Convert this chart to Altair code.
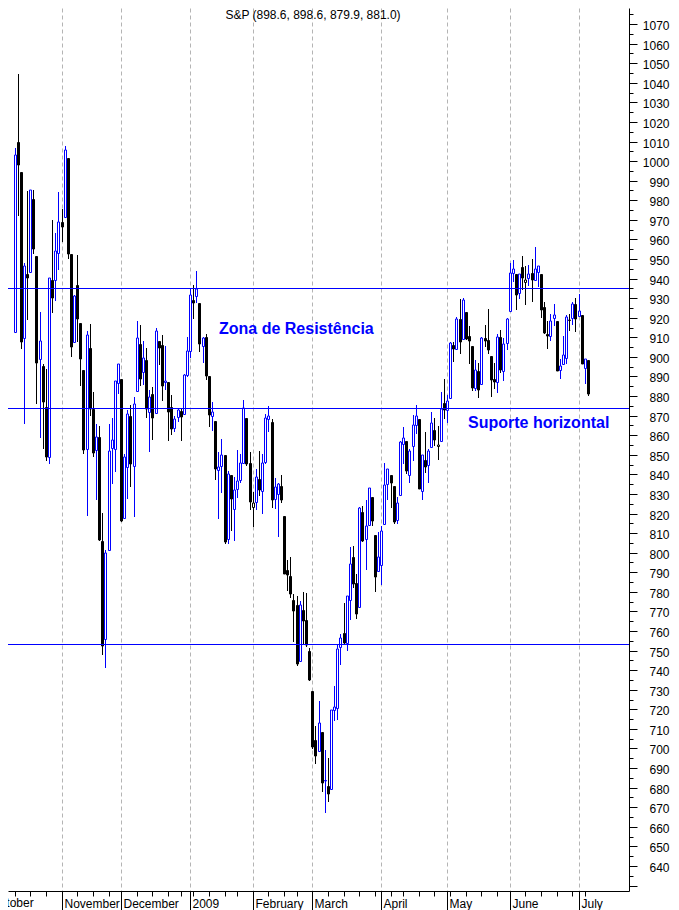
import altair as alt
import pandas as pd
import numpy as np

FONT = "Liberation Sans"
BLUE = "#0000ff"

dates = [
    # Oct 2008
    "2008-10-13", "2008-10-14", "2008-10-15", "2008-10-16", "2008-10-17", "2008-10-20", "2008-10-21",
    "2008-10-22", "2008-10-23", "2008-10-24", "2008-10-27", "2008-10-28", "2008-10-29", "2008-10-30",
    "2008-10-31",
    # Nov
    "2008-11-03", "2008-11-04", "2008-11-05", "2008-11-06", "2008-11-07", "2008-11-10", "2008-11-11",
    "2008-11-12", "2008-11-13", "2008-11-14", "2008-11-17", "2008-11-18", "2008-11-19", "2008-11-20",
    "2008-11-21", "2008-11-24", "2008-11-25", "2008-11-26", "2008-11-28",
    # Dec
    "2008-12-01", "2008-12-02", "2008-12-03", "2008-12-04", "2008-12-05", "2008-12-08", "2008-12-09",
    "2008-12-10", "2008-12-11", "2008-12-12", "2008-12-15", "2008-12-16", "2008-12-17", "2008-12-18",
    "2008-12-19", "2008-12-22", "2008-12-23", "2008-12-24", "2008-12-26", "2008-12-29", "2008-12-30",
    "2008-12-31",
    # Jan 2009
    "2009-01-02", "2009-01-05", "2009-01-06", "2009-01-07", "2009-01-08", "2009-01-09", "2009-01-12",
    "2009-01-13", "2009-01-14", "2009-01-15", "2009-01-16", "2009-01-20", "2009-01-21", "2009-01-22",
    "2009-01-23", "2009-01-26", "2009-01-27", "2009-01-28", "2009-01-29", "2009-01-30",
    # Feb
    "2009-02-02", "2009-02-03", "2009-02-04", "2009-02-05", "2009-02-06", "2009-02-09", "2009-02-10",
    "2009-02-11", "2009-02-12", "2009-02-13", "2009-02-17", "2009-02-18", "2009-02-19", "2009-02-20",
    "2009-02-23", "2009-02-24", "2009-02-25", "2009-02-26", "2009-02-27",
    # Mar
    "2009-03-02", "2009-03-03", "2009-03-04", "2009-03-05", "2009-03-06", "2009-03-09", "2009-03-10",
    "2009-03-11", "2009-03-12", "2009-03-13", "2009-03-16", "2009-03-17", "2009-03-18", "2009-03-19",
    "2009-03-20", "2009-03-23", "2009-03-24", "2009-03-25", "2009-03-26", "2009-03-27", "2009-03-30",
    "2009-03-31",
    # Apr
    "2009-04-01", "2009-04-02", "2009-04-03", "2009-04-06", "2009-04-07", "2009-04-08", "2009-04-09",
    "2009-04-13", "2009-04-14", "2009-04-15", "2009-04-16", "2009-04-17", "2009-04-20", "2009-04-21",
    "2009-04-22", "2009-04-23", "2009-04-24", "2009-04-27", "2009-04-28", "2009-04-29", "2009-04-30",
    # May
    "2009-05-01", "2009-05-04", "2009-05-05", "2009-05-06", "2009-05-07", "2009-05-08", "2009-05-11",
    "2009-05-12", "2009-05-13", "2009-05-14", "2009-05-15", "2009-05-18", "2009-05-19", "2009-05-20",
    "2009-05-21", "2009-05-22", "2009-05-26", "2009-05-27", "2009-05-28", "2009-05-29",
    # Jun
    "2009-06-01", "2009-06-02", "2009-06-03", "2009-06-04", "2009-06-05", "2009-06-08", "2009-06-09",
    "2009-06-10", "2009-06-11", "2009-06-12", "2009-06-15", "2009-06-16", "2009-06-17", "2009-06-18",
    "2009-06-19", "2009-06-22", "2009-06-23", "2009-06-24", "2009-06-25", "2009-06-26", "2009-06-29",
    "2009-06-30",
    # Jul
    "2009-07-01", "2009-07-02", "2009-07-06", "2009-07-07",
]

opens = [
    912.75, 1009.97, 994.60, 909.53, 942.29, 943.51, 980.40, 951.67, 899.08, 895.22, 874.28, 848.92, 939.51, 939.38, 953.11,
    968.67, 971.31, 1001.84, 952.40, 907.44, 936.75, 917.15, 893.39, 853.13, 904.36, 873.23, 852.34, 859.03, 805.87, 755.84, 801.20, 853.40, 852.90, 886.89,
    888.61, 817.94, 843.60, 869.75, 844.43, 882.71, 906.48, 892.17, 898.35, 871.79, 881.07, 871.53, 908.16, 905.98, 886.96, 887.20, 874.31, 863.87, 869.51, 872.37, 870.58, 890.59,
    902.99, 929.17, 931.17, 927.45, 905.73, 909.91, 890.40, 869.79, 867.28, 841.99, 844.45, 849.64, 806.77, 839.74, 822.16, 832.50, 837.30, 845.73, 868.89, 845.69,
    823.09, 825.69, 837.77, 831.75, 846.09, 868.24, 866.87, 827.41, 829.91, 833.95, 818.61, 791.06, 787.91, 775.87, 773.25, 744.69, 770.64, 765.76, 749.93,
    729.57, 704.44, 698.60, 708.27, 684.04, 680.76, 679.28, 719.59, 720.89, 751.97, 758.84, 753.88, 776.01, 797.92, 784.58, 772.31, 820.60, 806.81, 814.06, 828.68, 809.07, 790.88,
    793.59, 814.53, 835.13, 839.75, 834.12, 816.76, 829.29, 855.33, 856.88, 839.44, 854.54, 865.18, 868.27, 831.25, 847.26, 844.62, 853.91, 862.82, 854.48, 856.85, 876.59,
    872.74, 879.21, 906.10, 903.95, 919.58, 909.03, 922.99, 910.52, 905.40, 884.24, 892.76, 886.07, 909.67, 908.62, 900.42, 888.68, 887.00, 909.95, 892.96, 907.02,
    923.26, 942.87, 942.51, 932.49, 945.67, 938.12, 940.35, 942.73, 939.04, 943.44, 942.45, 925.60, 911.89, 910.86, 919.96, 918.13, 893.46, 896.31, 899.45, 918.84, 919.86, 927.15,
    920.82, 921.24, 894.27, 898.60,
]

highs = [
    1006.93, 1044.31, 994.60, 947.71, 984.64, 985.40, 985.44, 951.67, 922.83, 896.30, 893.78, 940.51, 969.97, 963.23, 984.38,
    975.57, 1007.51, 1001.84, 952.40, 931.46, 951.95, 917.15, 893.39, 913.01, 916.88, 882.29, 865.90, 864.57, 820.52, 801.20, 865.60, 868.94, 887.68, 896.25,
    888.61, 850.54, 873.12, 875.60, 879.42, 918.57, 916.26, 908.27, 904.63, 883.24, 884.63, 914.66, 908.16, 911.02, 905.47, 887.37, 880.44, 869.79, 873.74, 873.70, 891.12, 910.32,
    934.73, 936.63, 943.85, 927.45, 910.00, 911.93, 890.40, 877.02, 867.28, 851.59, 858.13, 849.64, 841.72, 839.74, 838.61, 852.53, 850.45, 877.86, 868.89, 851.66,
    830.78, 842.60, 851.85, 850.55, 870.75, 875.01, 868.05, 838.22, 835.48, 839.43, 818.61, 796.17, 797.58, 778.69, 777.85, 775.49, 780.12, 779.42, 751.27,
    729.57, 711.67, 724.12, 708.27, 699.09, 695.27, 719.60, 731.92, 752.63, 758.29, 774.53, 778.12, 803.04, 803.24, 788.91, 823.37, 823.65, 826.78, 832.98, 828.68, 809.07, 810.48,
    813.62, 845.61, 842.50, 839.75, 834.12, 828.42, 856.91, 864.31, 856.88, 852.93, 870.35, 875.63, 868.27, 850.09, 861.78, 852.87, 871.80, 868.83, 864.48, 882.06, 888.70,
    880.48, 907.85, 907.70, 920.28, 929.58, 930.17, 922.99, 915.57, 905.40, 898.36, 896.97, 910.00, 916.39, 924.60, 900.42, 896.65, 911.76, 913.84, 909.45, 920.02,
    947.77, 949.38, 942.51, 942.47, 951.69, 946.33, 946.92, 949.77, 956.23, 946.30, 942.45, 928.00, 918.44, 921.93, 927.09, 918.13, 898.69, 910.85, 921.42, 922.00, 927.99, 930.01,
    931.92, 921.24, 898.72, 898.60,
]

lows = [
    912.75, 972.07, 903.99, 865.83, 918.74, 943.51, 952.47, 875.81, 858.44, 852.85, 846.75, 845.27, 922.26, 928.50, 944.59,
    958.82, 971.31, 949.86, 899.73, 906.90, 907.47, 884.90, 850.48, 818.69, 869.88, 848.98, 826.84, 806.18, 747.78, 741.02, 801.20, 834.99, 841.37, 881.21,
    815.69, 817.94, 827.60, 833.60, 818.41, 882.71, 885.38, 885.45, 868.73, 851.35, 857.72, 871.53, 895.93, 877.44, 883.02, 857.09, 860.10, 861.44, 866.52, 857.07, 870.58, 889.67,
    899.35, 919.53, 927.28, 902.37, 896.81, 888.31, 864.32, 862.02, 836.93, 817.04, 830.66, 804.47, 804.30, 811.29, 806.07, 827.69, 835.40, 845.73, 844.15, 821.67,
    812.87, 821.98, 829.18, 819.91, 845.42, 861.65, 822.99, 822.30, 808.06, 825.21, 789.17, 780.43, 777.03, 754.25, 742.37, 744.69, 752.89, 751.75, 734.52,
    699.70, 692.30, 698.60, 677.93, 666.79, 672.88, 679.28, 713.85, 714.76, 742.46, 753.37, 749.93, 765.64, 781.82, 766.20, 772.31, 805.48, 791.37, 814.06, 813.43, 779.81, 790.88,
    783.32, 814.53, 826.70, 822.79, 814.53, 814.84, 829.29, 845.35, 840.25, 835.58, 847.04, 860.87, 832.39, 826.83, 840.57, 835.45, 853.91, 854.65, 847.12, 856.85, 868.51,
    866.10, 879.21, 897.34, 903.95, 901.36, 909.03, 908.68, 896.46, 882.79, 882.52, 878.94, 886.07, 905.22, 901.37, 879.61, 883.75, 881.46, 891.87, 887.60, 903.56,
    923.26, 938.46, 923.85, 929.32, 934.13, 926.44, 936.15, 927.97, 939.04, 935.66, 919.65, 911.60, 903.78, 907.94, 915.80, 893.04, 888.86, 896.31, 896.27, 913.03, 916.18, 912.86,
    920.82, 896.42, 886.36, 879.93,
]

closes = [
    1003.35, 998.01, 907.84, 946.43, 940.55, 985.40, 955.05, 896.78, 908.11, 876.77, 848.92, 940.51, 930.09, 954.09, 968.75,
    966.30, 1005.75, 952.77, 904.88, 930.99, 919.21, 898.95, 852.30, 911.29, 873.29, 850.75, 859.12, 806.58, 752.44, 800.03, 851.81, 857.39, 887.68, 896.24,
    816.21, 848.81, 870.74, 845.22, 876.07, 909.70, 888.67, 899.24, 873.59, 879.73, 868.57, 913.18, 904.42, 885.28, 887.88, 871.63, 863.16, 868.15, 872.80, 869.42, 890.64, 903.25,
    931.80, 927.45, 934.70, 906.65, 909.73, 890.35, 870.26, 871.79, 842.62, 843.74, 850.12, 805.22, 840.24, 827.50, 831.95, 836.57, 845.71, 874.09, 845.14, 825.88,
    825.44, 838.51, 832.23, 845.85, 868.60, 869.89, 827.16, 833.74, 835.19, 826.84, 789.17, 788.42, 778.94, 770.05, 743.33, 773.14, 764.90, 752.83, 735.09,
    700.82, 696.33, 712.87, 682.55, 683.38, 676.53, 719.60, 721.36, 750.74, 756.55, 753.89, 778.12, 794.35, 784.04, 768.54, 822.92, 806.12, 813.88, 832.86, 815.94, 787.53, 797.87,
    811.08, 834.38, 842.50, 835.48, 815.55, 825.16, 856.56, 858.73, 841.50, 852.06, 865.30, 869.60, 832.39, 850.08, 843.55, 851.92, 866.23, 857.51, 855.16, 873.64, 872.81,
    877.52, 907.24, 903.80, 919.53, 907.39, 929.23, 909.24, 908.35, 883.92, 893.07, 882.88, 909.71, 908.13, 903.47, 888.33, 887.00, 910.33, 893.06, 906.83, 919.14,
    942.87, 944.74, 931.76, 942.46, 940.09, 939.14, 942.43, 939.15, 944.89, 946.21, 923.72, 911.97, 910.71, 918.37, 921.23, 893.04, 895.10, 900.94, 920.26, 918.90, 927.23, 919.32,
    923.33, 896.42, 898.72, 881.03,
]

month_names = ["November", "December", "2009", "February", "March", "April", "May", "June", "July"]
first_month_name = "October"
first_month_idx = -8          # Oct 1, 2008 sits 8 trading days before the first bar
levels = [935.0, 873.9, 753.3]
title_text = "S&P (898.6, 898.6, 879.9, 881.0)"
note_texts = ["Zona de Resistência", "Suporte horizontal"]
note_idx = [65.4, 144.6]
note_price = [911.7, 863.7]
y_tick_values = list(range(630, 1080, 5))

# ---------------- data frame ----------------
df = pd.DataFrame({"date": pd.to_datetime(dates), "open": opens, "high": highs,
                   "low": lows, "close": closes})
df["idx"] = np.arange(len(df))
prev_close = df["close"].shift(1).fillna(df["open"])
df["dir"] = np.where(df["close"] >= prev_close, "up", "down")
df["body"] = np.where(df["close"] > df["open"], "hollow", df["dir"])

new_month = df["date"].dt.month != df["date"].dt.month.shift(1)
new_month.iloc[0] = False
month_idx = df.loc[new_month, "idx"].astype(int).tolist()
iso = df["date"].dt.isocalendar()
wk = iso["year"].astype(int) * 100 + iso["week"].astype(int)
week_idx = df.loc[wk != wk.shift(1), "idx"].astype(int).tolist()
x_tick_values = sorted(set(month_idx + week_idx))

mtest = "indexof([%s], datum.value) >= 0" % ",".join(str(i) for i in month_idx)
lab_expr = "".join("datum.value == %d ? '%s' : " % (i, n) for i, n in zip(month_idx, month_names)) + "''"

xscale = alt.Scale(domain=[-0.5, 194.5], nice=False, zero=False, round=True)
yscale = alt.Scale(domain=[627.2, 1078.2], nice=False, zero=False, round=True)

xaxis = alt.Axis(
    values=x_tick_values, labelExpr=lab_expr, title=None, orient="bottom",
    grid=True, gridColor="#b4b4b4", gridDash=[4, 3], gridWidth=1,
    gridOpacity={"condition": {"test": mtest, "value": 1}, "value": 0},
    tickSize={"condition": {"test": mtest, "value": 19}, "value": 5},
    tickColor="black", domainColor="black",
    labelAlign="left", labelBaseline="alphabetic", labelPadding=-3, labelOffset=2,
    labelFont=FONT, labelFontSize=12, labelColor="black",
    labelOverlap=False, labelFlush=False,
)
yaxis = alt.Axis(
    values=y_tick_values, title=None, orient="right", grid=False,
    labelExpr="(datum.value % 10 == 0 && datum.value >= 640 && datum.value <= 1070) ? format(datum.value, 'd') : ''",
    tickSize={"condition": {"test": "datum.value % 10 == 0", "value": 8}, "value": 4},
    tickColor="black", domainColor="black",
    labelAlign="right", labelBaseline="middle", labelPadding=32, labelOffset=1,
    labelFont=FONT, labelFontSize=12, labelColor="black",
    labelOverlap=False, labelFlush=False,
)

dir_scale = alt.Scale(domain=["up", "down"], range=[BLUE, "#000000"])
body_scale = alt.Scale(domain=["up", "down", "hollow"], range=[BLUE, "#000000", "#ffffff"])

wicks = alt.Chart(df).mark_rule(strokeWidth=1, xOffset=0.5).encode(
    x=alt.X("idx:Q", scale=xscale, axis=xaxis),
    y=alt.Y("low:Q", scale=yscale, axis=yaxis),
    y2="high:Q",
    color=alt.Color("dir:N", scale=dir_scale, legend=None),
)

bodies = alt.Chart(df).mark_bar(size=2, strokeWidth=1, xOffset=0.5, yOffset=0.5).encode(
    x=alt.X("idx:Q", scale=xscale, axis=xaxis),
    y=alt.Y("open:Q", scale=yscale, axis=yaxis),
    y2="close:Q",
    fill=alt.Fill("body:N", scale=body_scale, legend=None),
    stroke=alt.Stroke("dir:N", scale=dir_scale, legend=None),
)

hlines = alt.Chart(pd.DataFrame({"level": levels})).mark_rule(
    color=BLUE, strokeWidth=1, yOffset=0.5
).encode(y=alt.Y("level:Q", scale=yscale, axis=yaxis))

notes_df = pd.DataFrame({"idx": note_idx, "price": note_price, "text": note_texts})
notes = alt.Chart(notes_df).mark_text(
    align="left", baseline="alphabetic", font=FONT, fontSize=16, fontWeight="bold", color=BLUE
).encode(
    x=alt.X("idx:Q", scale=xscale, axis=xaxis),
    y=alt.Y("price:Q", scale=yscale, axis=yaxis),
    text="text:N",
)

title_df = pd.DataFrame({"idx": [95.2], "price": [1074.6], "text": [title_text]})
title = alt.Chart(title_df).mark_text(
    align="center", baseline="middle", font=FONT, fontSize=12, color="#000000"
).encode(
    x=alt.X("idx:Q", scale=xscale, axis=xaxis),
    y=alt.Y("price:Q", scale=yscale, axis=yaxis),
    text="text:N",
)

oct_df = pd.DataFrame({"idx": [first_month_idx], "price": [618.9], "text": [first_month_name]})
oct_label = alt.Chart(oct_df).mark_text(
    align="left", baseline="alphabetic", dx=2, font=FONT, fontSize=12, color="#000000"
).encode(
    x=alt.X("idx:Q", scale=xscale, axis=xaxis),
    y=alt.Y("price:Q", scale=yscale, axis=yaxis),
    text="text:N",
)

chart = alt.layer(wicks, bodies, hlines, notes, title, oct_label).properties(
    width=621, height=883,
    autosize=alt.AutoSizeParams(type="none"),
    padding={"left": 0, "top": 0, "right": 42, "bottom": 19},
    background="#ffffff",
).configure_view(stroke=None)

chart.save("out.html", embed_options={"renderer": "svg", "actions": False})
